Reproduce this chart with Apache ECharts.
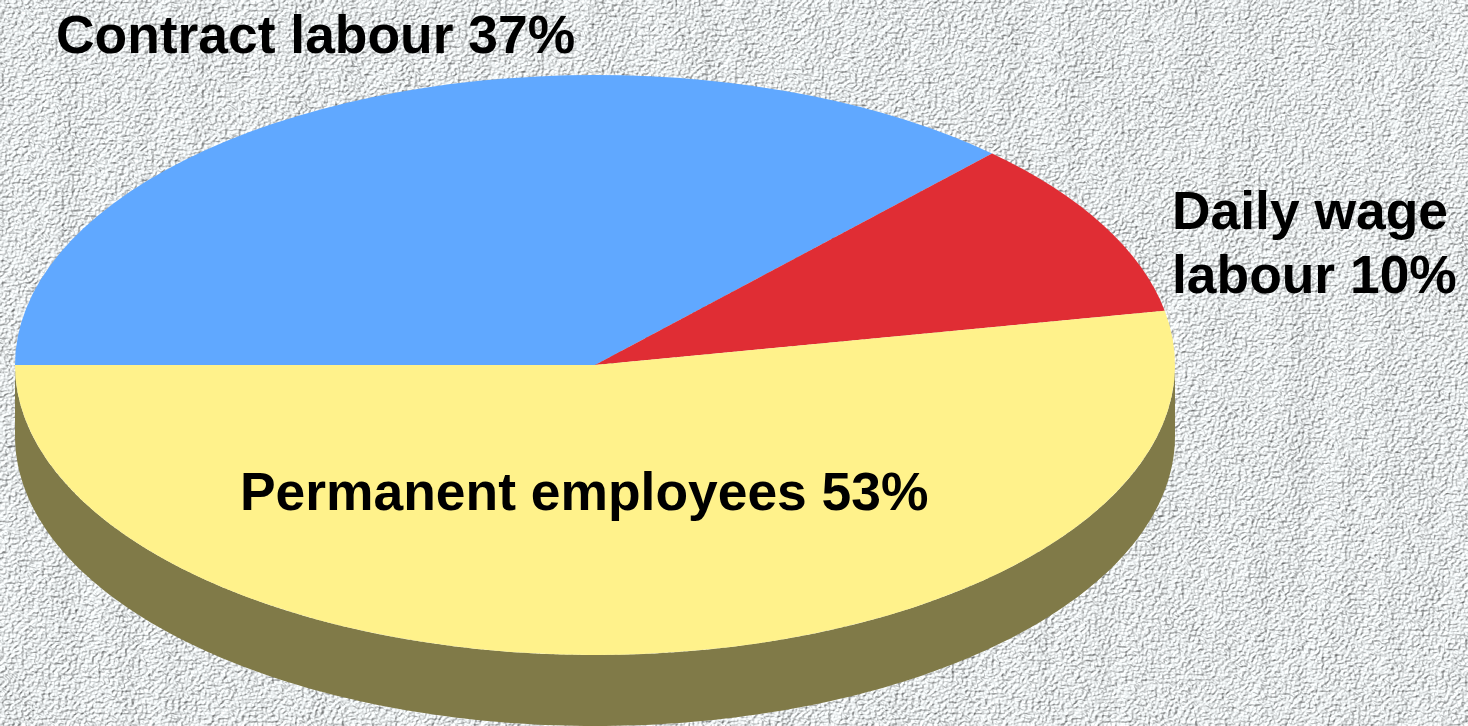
<!DOCTYPE html>
<html>
<head>
<meta charset="utf-8">
<title>Workforce composition</title>
<style>
  html, body { margin: 0; padding: 0; width: 100%; height: 100%; overflow: hidden; background: #dfe2e3; }
  #wall { position: absolute; left: 0; top: 0; width: 1468px; height: 726px; }
  #chart { position: absolute; left: 0; top: 0; width: 1468px; height: 726px; }
</style>
</head>
<body>
<!-- Plaster wall behind the pie -->
<svg id="wall" xmlns="http://www.w3.org/2000/svg" width="1468" height="726">
  <defs>
    <filter id="plaster" x="0" y="0" width="100%" height="100%" color-interpolation-filters="sRGB">
      <feTurbulence type="fractalNoise" baseFrequency="0.30 0.36" numOctaves="2" seed="11" result="grain"/>
      <feTurbulence type="fractalNoise" baseFrequency="0.02 0.003" numOctaves="3" seed="21" result="cracks"/>
      <feComposite in="grain" in2="cracks" operator="arithmetic" k1="0" k2="1" k3="1.0" k4="-0.5" result="height"/>
      <feDiffuseLighting in="height" surfaceScale="2.0" diffuseConstant="1.07" lighting-color="#f0f4f5">
        <feDistantLight azimuth="225" elevation="66"/>
      </feDiffuseLighting>
    </filter>
  </defs>
  <rect width="1468" height="726" filter="url(#plaster)"/>
</svg>
<div id="chart"></div>
<script src="https://cdn.jsdelivr.net/npm/echarts@6/dist/echarts.min.js"></script>
<script>
// Share of the workforce by type of employment, in percent.
const categories = ['Contract labour', 'Daily wage labour', 'Permanent employees'];
const shares = [37, 10, 53];
const sliceColors = ['#60a8ff', '#e02d34', '#fff28b'];
const rimColor = '#807a48';

// Label text, broken into the lines they are set on.
const labelLines = [
  ['Contract labour 37%'],
  ['Daily wage', 'labour 10%'],
  ['Permanent employees 53%']
];
const labelAnchors = [[56, 38], [1172, 214], [240, 495]];
const labelLineHeight = 64;

// Tilted disc geometry.
const disc = { cx: 595, cy: 365, rx: 580, ry: 290, depth: 71 };
const startAngle = Math.PI;

const total = shares.reduce((a, b) => a + b, 0);
function sliceAngles(index) {
  let before = 0;
  for (let i = 0; i < index; i++) before += shares[i];
  return [
    startAngle + before / total * Math.PI * 2,
    startAngle + (before + shares[index]) / total * Math.PI * 2
  ];
}

// Side wall of a slice: only the part facing the viewer, below the disc's equator.
function rimPolygon(a0, a1) {
  const from = Math.max(a0, Math.PI * 2);
  const to = Math.min(a1, Math.PI * 3);
  if (to <= from) return null;
  const pts = [];
  const steps = 180;
  for (let i = 0; i <= steps; i++) {
    const t = from + (to - from) * i / steps;
    pts.push([disc.cx + disc.rx * Math.cos(t), disc.cy + disc.ry * Math.sin(t)]);
  }
  for (let i = steps; i >= 0; i--) {
    const t = from + (to - from) * i / steps;
    pts.push([disc.cx + disc.rx * Math.cos(t), disc.cy + disc.depth + disc.ry * Math.sin(t)]);
  }
  return pts;
}

const chart = echarts.init(document.getElementById('chart'), null, { renderer: 'canvas' });

chart.setOption({
  backgroundColor: 'transparent',
  animation: false,
  series: [
    {
      name: 'Rim',
      type: 'custom',
      coordinateSystem: 'none',
      silent: true,
      z: 1,
      data: shares,
      renderItem(params) {
        const [a0, a1] = sliceAngles(params.dataIndex);
        const points = rimPolygon(a0, a1);
        if (!points) return { type: 'group', children: [] };
        return { type: 'polygon', shape: { points }, style: { fill: rimColor } };
      }
    },
    {
      name: 'Employment',
      type: 'custom',
      coordinateSystem: 'none',
      silent: true,
      z: 2,
      data: shares.map((v, i) => ({ name: categories[i], value: v })),
      renderItem(params) {
        const [a0, a1] = sliceAngles(params.dataIndex);
        return {
          type: 'sector',
          x: disc.cx,
          y: disc.cy,
          scaleX: 1,
          scaleY: disc.ry / disc.rx,
          shape: { cx: 0, cy: 0, r0: 0, r: disc.rx, startAngle: a0, endAngle: a1, clockwise: true },
          style: { fill: sliceColors[params.dataIndex] }
        };
      }
    },
    {
      name: 'Labels',
      type: 'custom',
      coordinateSystem: 'none',
      silent: true,
      z: 3,
      data: shares,
      renderItem(params) {
        const i = params.dataIndex;
        return {
          type: 'group',
          children: labelLines[i].map((line, k) => ({
            type: 'text',
            x: labelAnchors[i][0],
            y: labelAnchors[i][1] + k * labelLineHeight,
            style: {
              text: line,
              fill: '#000',
              font: 'bold 53.4px "Liberation Sans", Arial, sans-serif',
              textAlign: 'left',
              textVerticalAlign: 'middle'
            }
          }))
        };
      }
    }
  ]
});
</script>
</body>
</html>
